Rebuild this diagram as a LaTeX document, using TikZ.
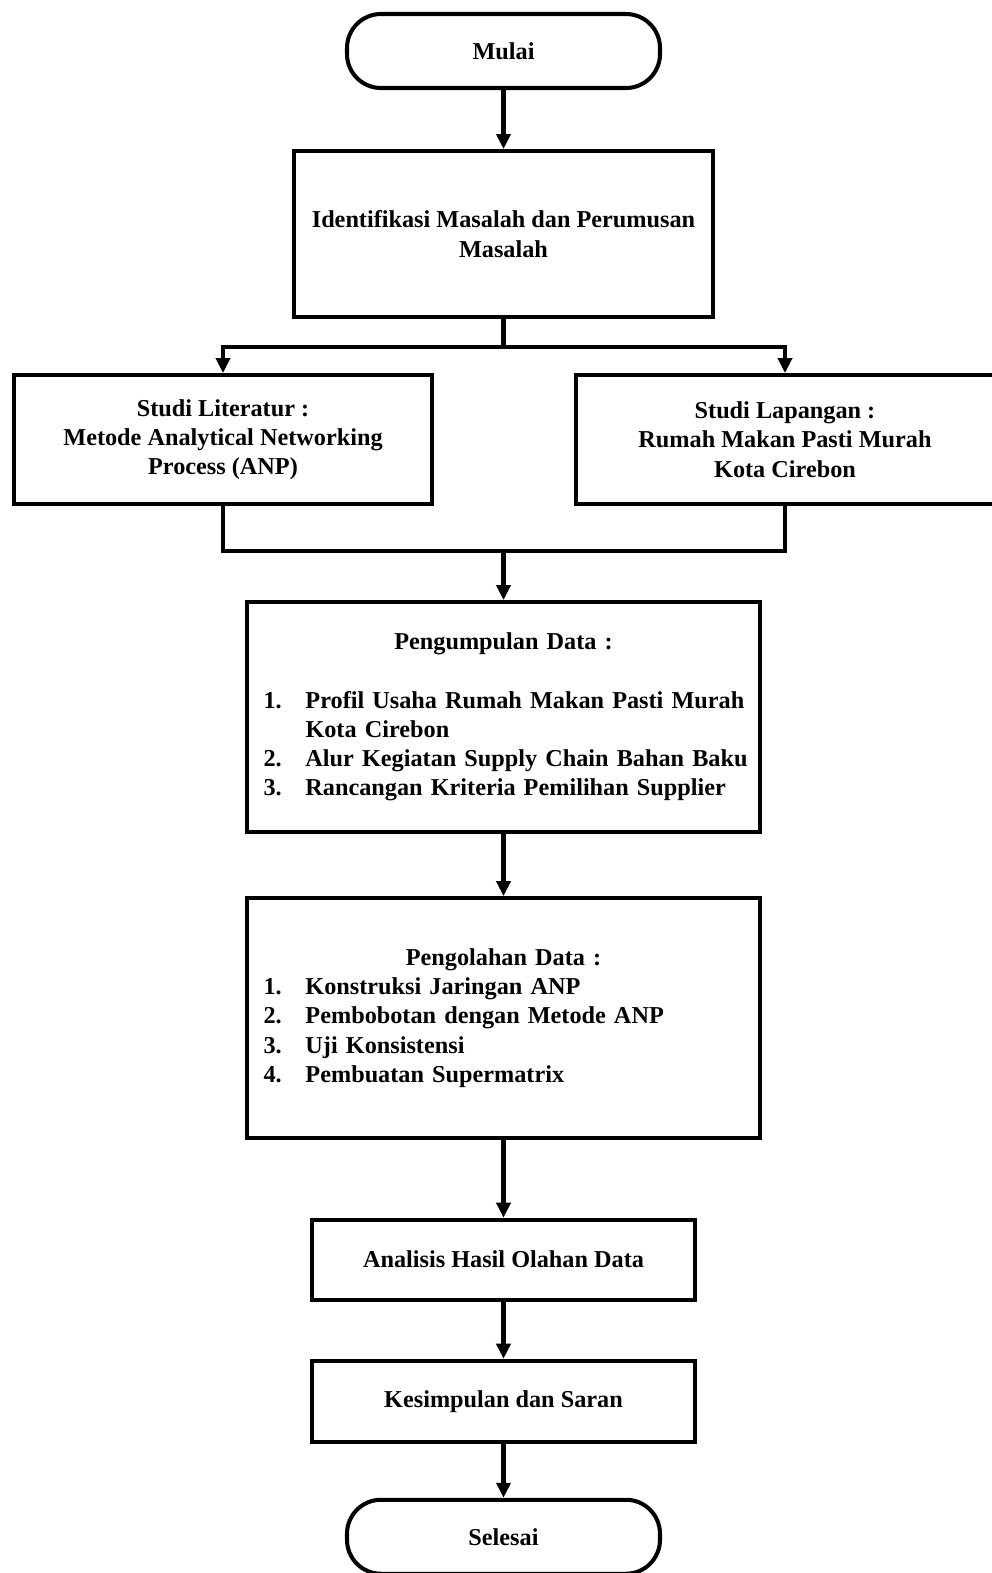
\documentclass[tikz,border=0pt]{standalone}
\usepackage{fontspec}
\setmainfont{Liberation Serif}
\usetikzlibrary{arrows.meta,positioning}
\newcommand{\butir}[2]{\mbox{\makebox[0.84cm][l]{#1}#2}\par}

\begin{document}
\begin{tikzpicture}[
  node distance=1.2cm,
  font=\fontsize{13.8}{16.6}\selectfont\bfseries,
  terminal/.style={rectangle, draw, line width=2.3pt, rounded corners=0.68cm,
    minimum width=6.26cm, minimum height=1.48cm, align=center},
  proses/.style={rectangle, draw, line width=2.3pt, align=center},
  daftar/.style={proses, minimum width=10.26cm, text width=9.6cm, align=left},
  garis/.style={line width=2.3pt},
  arr/.style={garis, -{Triangle[length=0.3cm, width=0.28cm]}}
]
\useasboundingbox (0,0) rectangle (19.84,-31.46);

\node[terminal] (mulai) at (10.07,-1.02) {Mulai};
\node[proses, below=1.18cm of mulai, minimum width=8.38cm, minimum height=3.32cm]
  (ident) {Identifikasi Masalah dan Perumusan\\Masalah};
\node[proses, below=1.08cm of ident, xshift=-5.61cm, minimum width=8.36cm,
  minimum height=2.58cm] (lit) {Studi Literatur :\\Metode Analytical Networking\\
  Process (ANP)};
\node[proses, below=1.08cm of ident, xshift=5.63cm, minimum width=8.36cm,
  minimum height=2.58cm] (lap) {Studi Lapangan :\\Rumah Makan Pasti Murah\\
  Kota Cirebon};
\node[daftar, below=5.62cm of ident, minimum height=4.6cm] (kumpul) {%
  {\centering Pengumpulan Data :\par}
  \mbox{}\par
  \butir{1.}{Profil Usaha Rumah Makan Pasti Murah}
  \butir{}{Kota Cirebon}
  \butir{2.}{Alur Kegiatan Supply Chain Bahan Baku}
  \butir{3.}{Rancangan Kriteria Pemilihan Supplier}};
\node[daftar, below=1.24cm of kumpul, minimum height=4.8cm] (olah) {%
  {\centering Pengolahan Data :\par}
  \butir{1.}{Konstruksi Jaringan ANP}
  \butir{2.}{Pembobotan dengan Metode ANP}
  \butir{3.}{Uji Konsistensi}
  \butir{4.}{Pembuatan Supermatrix}};
\node[proses, below=1.55cm of olah, minimum width=7.66cm, minimum height=1.6cm]
  (analisis) {Analisis Hasil Olahan Data};
\node[proses, below=1.14cm of analisis, minimum width=7.66cm, minimum height=1.62cm]
  (simpul) {Kesimpulan dan Saran};
\node[terminal, below=1.08cm of simpul] (selesai) {Selesai};

% percabangan dan penggabungan
\coordinate (cabang) at (10.07,-6.94);
\coordinate (gabung) at (10.07,-11.02);

\draw[arr] (mulai) -- (ident);
\draw[garis] (ident) -- (cabang);
\draw[arr] (cabang) -| (lit);
\draw[arr] (cabang) -| (lap);
\draw[garis] (lit) |- (gabung) -| (lap);
\draw[arr] (gabung) -- (kumpul);
\draw[arr] (kumpul) -- (olah);
\draw[arr] (olah) -- (analisis);
\draw[arr] (analisis) -- (simpul);
\draw[arr] (simpul) -- (selesai);
\end{tikzpicture}
\end{document}
